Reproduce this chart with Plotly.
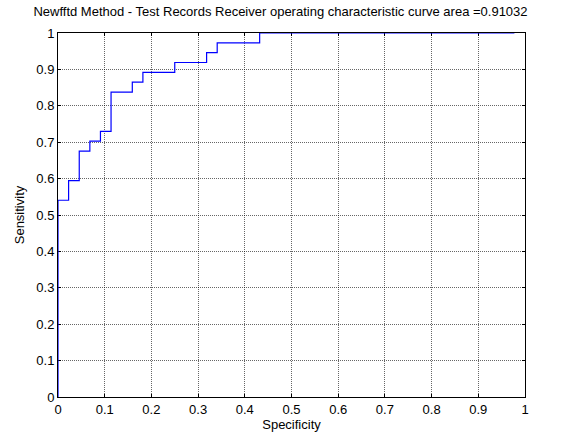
import plotly.graph_objects as go

# ROC curve points: false-positive fraction (x) and true-positive fraction (y)
fpr = [0.0, 0.0, 0.0227, 0.0227, 0.0455, 0.0455, 0.0682, 0.0682, 0.0909, 0.0909,
       0.1136, 0.1136, 0.1591, 0.1591, 0.1818, 0.1818, 0.25, 0.25, 0.3182, 0.3182,
       0.3409, 0.3409, 0.4318, 0.4318, 0.9773]
tpr = [0.0, 0.5405, 0.5405, 0.5946, 0.5946, 0.6757, 0.6757, 0.7027, 0.7027, 0.7297,
       0.7297, 0.8378, 0.8378, 0.8649, 0.8649, 0.8919, 0.8919, 0.9189, 0.9189, 0.9459,
       0.9459, 0.973, 0.973, 1.0, 1.0]

tick_vals = [i / 10 for i in range(11)]
tick_text = ["0", "0.1", "0.2", "0.3", "0.4", "0.5", "0.6", "0.7", "0.8", "0.9", "1"]

font = dict(family="Liberation Sans, Arial, sans-serif", size=13, color="black")

fig = go.Figure()
fig.add_trace(go.Scatter(
    x=fpr, y=tpr, mode="lines",
    line=dict(color="rgb(0,0,255)", width=1.2, shape="linear"),
    showlegend=False, cliponaxis=False,
))

axis_common = dict(
    range=[0, 1], tickvals=tick_vals, ticktext=tick_text,
    showgrid=True, gridcolor="rgba(0,0,0,0.6)", griddash="1px,1px", gridwidth=1,
    showline=True, linecolor="black", linewidth=1, mirror="ticks",
    ticks="inside", ticklen=3, tickcolor="black", tickwidth=1,
    zeroline=False, tickfont=font, layer="below traces",
)

fig.update_layout(
    width=561, height=441,
    margin=dict(l=58, r=36, t=33, b=44),
    paper_bgcolor="white", plot_bgcolor="white",
    font=font,
    title=dict(
        text="Newfftd Method - Test Records Receiver operating characteristic curve area =0.91032",
        x=0.5, xanchor="center", y=0.975, yanchor="middle",
        font=font,
    ),
    xaxis=dict(axis_common, title=dict(text="Specificity", standoff=3, font=font)),
    yaxis=dict(axis_common, title=dict(text="Sensitivity", standoff=8, font=font)),
)

fig.write_html("out.html")
